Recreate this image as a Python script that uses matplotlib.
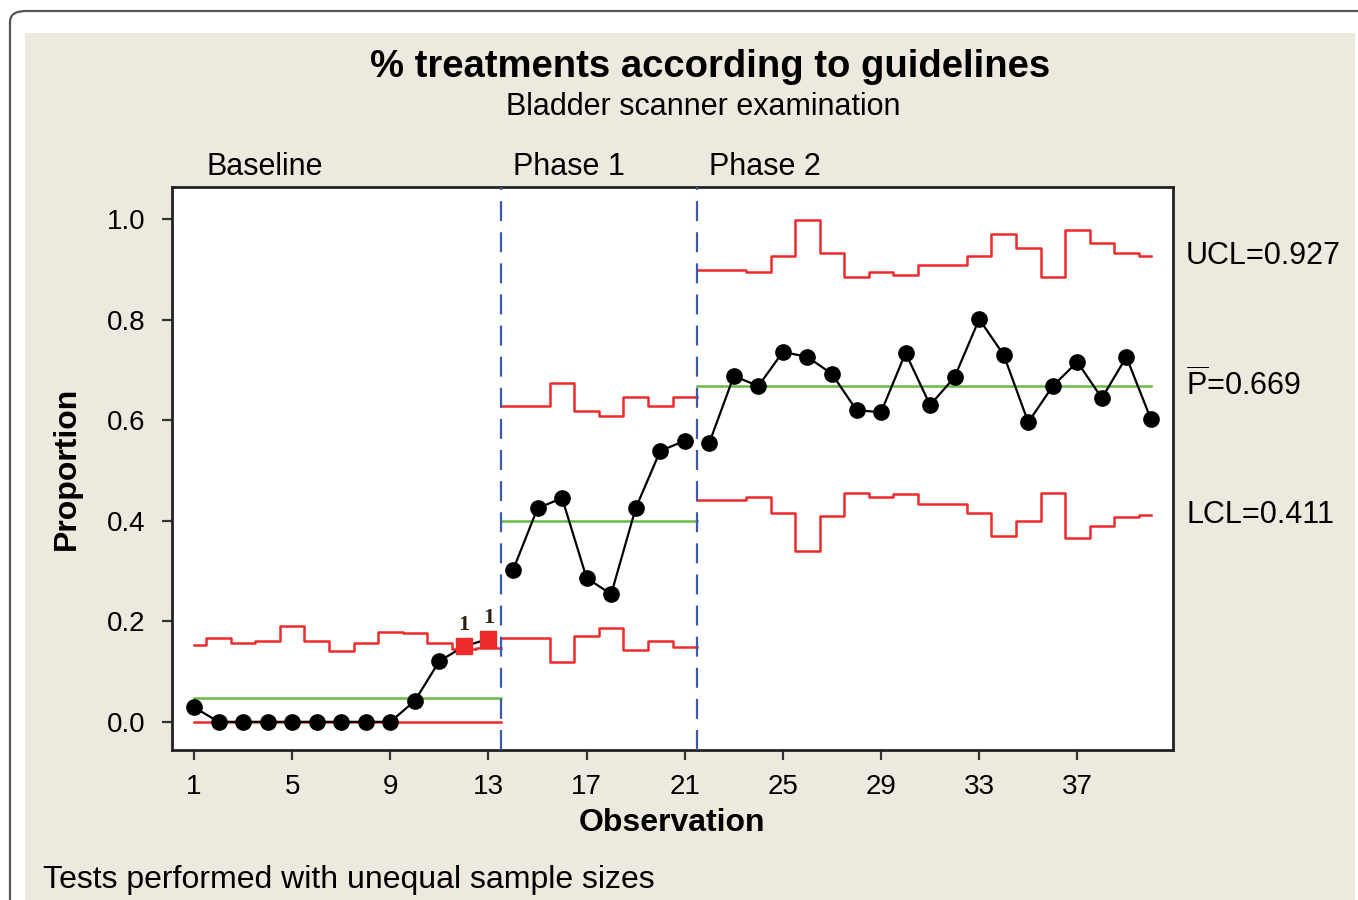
import numpy as np
import matplotlib.pyplot as plt
from matplotlib.patches import Rectangle, FancyBboxPatch

plt.rcParams['font.family'] = ['Liberation Sans', 'DejaVu Sans']
plt.rcParams['mathtext.fontset'] = 'custom'
plt.rcParams['mathtext.rm'] = 'Liberation Sans'

# stages: name, first obs, last obs, left edge, right edge
stages = [('Baseline', 1, 13, 1.0, 13.5),
          ('Phase 1', 14, 21, 13.5, 21.5),
          ('Phase 2', 22, 40, 21.5, 40.0)]

proportion = [0.029, 0.0, 0.0, 0.0, 0.0, 0.0, 0.0, 0.0, 0.0, 0.042, 0.121, 0.150, 0.165,
              0.302, 0.425, 0.445, 0.286, 0.254, 0.425, 0.539, 0.559,
              0.555, 0.688, 0.668, 0.736, 0.726, 0.692, 0.620, 0.616, 0.734, 0.630,
              0.686, 0.801, 0.730, 0.596, 0.668, 0.716, 0.644, 0.726, 0.602]

ucl = [0.152, 0.167, 0.157, 0.161, 0.191, 0.161, 0.141, 0.157, 0.179, 0.177, 0.157, 0.145, 0.147,
       0.628, 0.628, 0.674, 0.618, 0.608, 0.646, 0.628, 0.646,
       0.899, 0.899, 0.894, 0.927, 0.998, 0.933, 0.884, 0.895, 0.889, 0.908,
       0.908, 0.927, 0.970, 0.942, 0.884, 0.978, 0.952, 0.933, 0.927]

lcl = [0.0] * 13 + \
      [0.167, 0.167, 0.120, 0.171, 0.187, 0.143, 0.161, 0.149] + \
      [0.441, 0.441, 0.448, 0.415, 0.339, 0.410, 0.456, 0.447, 0.453, 0.433,
       0.433, 0.415, 0.370, 0.400, 0.456, 0.366, 0.390, 0.408, 0.411]

center = [0.048, 0.400, 0.669]
flagged = [12, 13]   # test 1 failures
xticks = [1, 5, 9, 13, 17, 21, 25, 29, 33, 37]

RED = '#EE2B2B'
GREEN = '#66BB44'
BLUE = '#3A5BB0'
BG = '#EDE9DF'

fig = plt.figure(figsize=(13.58, 9.0), dpi=100)
fig.patch.set_facecolor('white')

# outer frame + beige panel
fig.patches.append(FancyBboxPatch((10 / 1358, -0.2), 1.2, 1.2 - 11 / 900,
                                  boxstyle='round,pad=0,rounding_size=0.012',
                                  transform=fig.transFigure, facecolor='white',
                                  edgecolor='#555555', linewidth=1.6, zorder=-3))
fig.patches.append(Rectangle((25 / 1358, 0), (1355 - 25) / 1358, 1 - 33 / 900,
                             transform=fig.transFigure, facecolor=BG,
                             edgecolor='none', zorder=-2))

ax = fig.add_axes([172 / 1358, 150 / 900, (1173 - 172) / 1358, (750 - 187) / 900])
ax.set_facecolor('white')

obs = np.arange(1, len(proportion) + 1)
p = np.array(proportion)

for (name, first, last, lo, hi), cl in zip(stages, center):
    i0, i1 = first - 1, last
    edges = [lo] + [k + 0.5 for k in range(first, last)] + [hi]
    u = ucl[i0:i1] + [ucl[i1 - 1]]
    l = lcl[i0:i1] + [lcl[i1 - 1]]
    ax.step(edges, u, where='post', color=RED, lw=1.8, zorder=2)
    ax.step(edges, l, where='post', color=RED, lw=1.8, zorder=2)
    ax.plot([lo, hi], [cl, cl], color=GREEN, lw=1.8, zorder=2)
    ax.plot(obs[i0:i1], p[i0:i1], color='black', lw=1.6, marker='o', ms=11,
            markerfacecolor='black', markeredgecolor='black', zorder=4)
    ax.text(lo + 0.5, 1.0355, name, transform=ax.get_xaxis_transform(),
            ha='left', va='center', fontsize=22)

for f in flagged:
    ax.plot(f, p[f - 1], marker='s', ms=11.5, color=RED, zorder=5)
    ax.annotate('1', (f, p[f - 1]), xytext=(0, 8), textcoords='offset points',
                ha='center', va='bottom', fontsize=16, fontweight='bold',
                family='Liberation Serif', color='#2a2010', zorder=6)

for (_, _, _, lo, _) in stages[1:]:
    ax.axvline(lo, color=BLUE, lw=1.6, dashes=(9, 5), zorder=3)

ax.set_xlim(0.1, 40.9)
ax.set_ylim(-0.056, 1.064)
ax.set_xticks(xticks)
ax.set_yticks([0.0, 0.2, 0.4, 0.6, 0.8, 1.0])
ax.set_yticklabels(['0.0', '0.2', '0.4', '0.6', '0.8', '1.0'])
ax.tick_params(labelsize=20, length=7, width=1.6, color='#333333')
ax.tick_params(axis='y', pad=12)
ax.tick_params(axis='x', pad=10)
for s in ax.spines.values():
    s.set_linewidth(2)
    s.set_color('#222222')

ax.set_xlabel('Observation', fontsize=23, fontweight='bold', labelpad=6)
ax.set_ylabel('Proportion', fontsize=23, fontweight='bold', labelpad=18)

# limit labels on the right
yt = ax.get_yaxis_transform()
ax.text(1.013, ucl[-1], 'UCL=%.3f' % ucl[-1], transform=yt, fontsize=22, va='center', ha='left')
ax.text(1.013, center[-1], r'$\overline{\mathrm{P}}$=%.3f' % center[-1], transform=yt,
        fontsize=22, va='center', ha='left')
ax.text(1.013, lcl[-1], 'LCL=%.3f' % lcl[-1], transform=yt, fontsize=22, va='center', ha='left')

fig.text(710 / 1358, 1 - 67 / 900, '% treatments according to guidelines', ha='center',
         va='center', fontsize=27.5, fontweight='bold')
fig.text(703 / 1358, 1 - 107 / 900, 'Bladder scanner examination', ha='center',
         va='center', fontsize=22)
fig.text(43 / 1358, 1 - 880 / 900, 'Tests performed with unequal sample sizes',
         ha='left', va='center', fontsize=23)

fig.savefig('out.png', dpi=100, facecolor=fig.get_facecolor())
